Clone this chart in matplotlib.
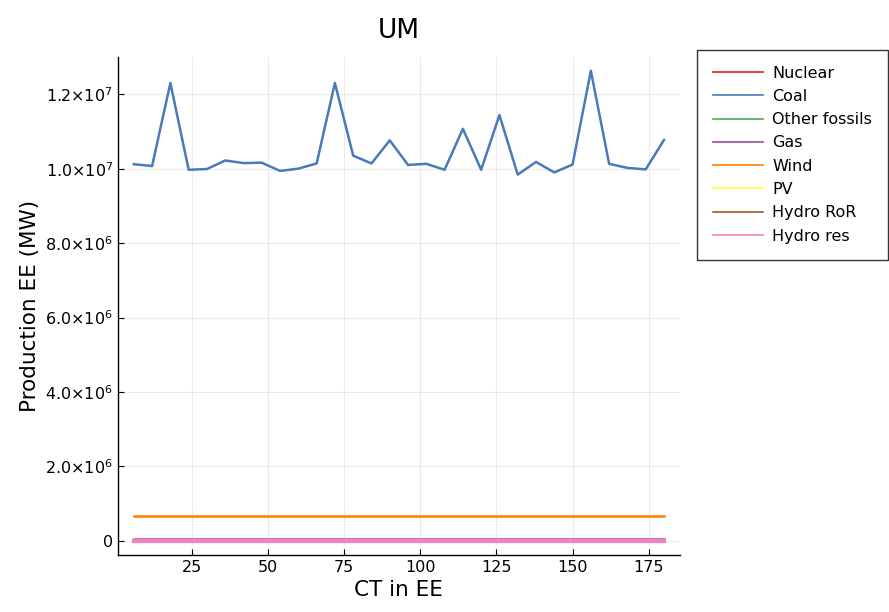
import matplotlib
matplotlib.use("Agg")
import matplotlib.pyplot as plt
import numpy as np

# hourly production by technology, CT index 6..180
ct = np.arange(6, 181, 6)

coal = [10.12e6, 10.07e6, 12.30e6, 9.97e6, 9.99e6, 10.22e6, 10.15e6, 10.16e6,
        9.94e6, 10.00e6, 10.14e6, 12.30e6, 10.35e6, 10.14e6, 10.76e6, 10.10e6,
        10.13e6, 9.97e6, 11.07e6, 9.97e6, 11.44e6, 9.84e6, 10.18e6, 9.90e6,
        10.11e6, 12.63e6, 10.13e6, 10.02e6, 9.98e6, 10.77e6]
nuclear = [0.0] * 30
other_fossils = [0.0] * 30
gas = [45e3] * 30
wind = [0.67e6] * 30
pv = [0.0] * 30
hydro_ror = [5e3] * 30
hydro_res = [10e3] * 30

series = [
    ("Nuclear", nuclear, "#e41a1c", 1.2),
    ("Coal", coal, "#4a7ab7", 1.8),
    ("Other fossils", other_fossils, "#4daf4a", 1.2),
    ("Gas", gas, "#984ea3", 1.8),
    ("Wind", wind, "#ff7f00", 1.8),
    ("PV", pv, "#ffff33", 1.2),
    ("Hydro RoR", hydro_ror, "#a65628", 1.8),
    ("Hydro res", hydro_res, "#f781bf", 3.0),
]

yticks = [0, 2e6, 4e6, 6e6, 8e6, 10e6, 12e6]
ytick_labels = ["0", r"$2.0{\times}10^{6}$", r"$4.0{\times}10^{6}$", r"$6.0{\times}10^{6}$",
                r"$8.0{\times}10^{6}$", r"$1.0{\times}10^{7}$", r"$1.2{\times}10^{7}$"]
xticks = [25, 50, 75, 100, 125, 150, 175]

plt.rcParams["mathtext.fontset"] = "dejavusans"

fig = plt.figure(figsize=(8.89, 6.12), dpi=100)
ax = fig.add_axes([0.1327, 0.0931, 0.632, 0.8138])

for label, vals, color, lw in series:
    ax.plot(ct, vals, color=color, lw=lw, label=label)

ax.set_xlim(0.8, 185.2)
ax.set_ylim(-0.379e6, 13.0e6)
ax.set_xticks(xticks)
ax.set_yticks(yticks)
ax.set_yticklabels(ytick_labels)
ax.tick_params(direction="in", length=4, labelsize=11.5, color="black")
ax.grid(True, color="#000000", alpha=0.08, lw=0.8)
for side in ("top", "right"):
    ax.spines[side].set_visible(False)
for side in ("left", "bottom"):
    ax.spines[side].set_linewidth(1.0)

ax.set_xlabel("CT in EE", fontsize=15.5)
ax.set_ylabel("Production EE (MW)", fontsize=15.5)
ax.set_title("UM", fontsize=19, pad=14)

leg = fig.legend(loc="upper right", bbox_to_anchor=(0.999, 0.919), fontsize=11.5,
                 frameon=True, fancybox=False, edgecolor="black",
                 borderaxespad=0.0, handlelength=3.1, handletextpad=0.6,
                 borderpad=1.0, labelspacing=0.52)
leg.get_frame().set_linewidth(1.0)
for line in leg.get_lines():
    line.set_linewidth(1.2)

fig.savefig("out.png", dpi=100)
